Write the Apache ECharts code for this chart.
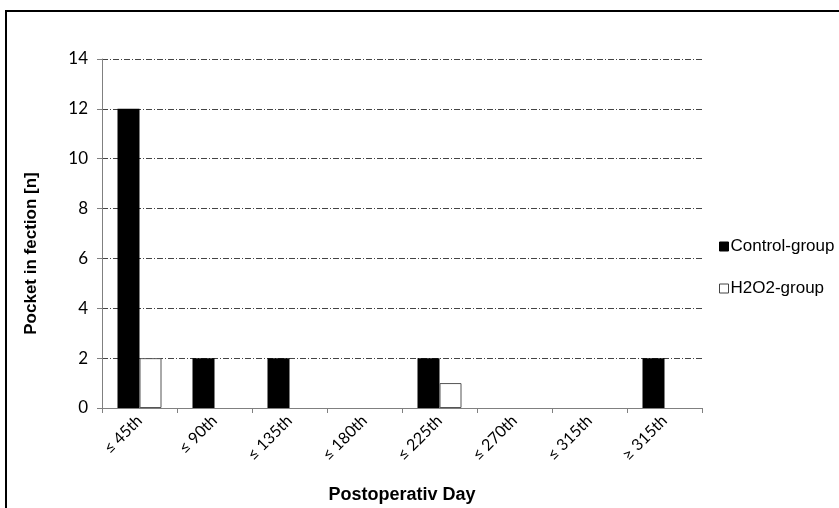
<!DOCTYPE html>
<html><head><meta charset="utf-8">
<script src="https://cdn.jsdelivr.net/npm/echarts@6/dist/echarts.min.js"></script>
<style>html,body{margin:0;padding:0;background:#fff}#c{width:839px;height:508px}</style>
</head><body><div id="c"></div>
<script>
const categories = ['≤ 45th','≤ 90th','≤ 135th','≤ 180th','≤ 225th','≤ 270th','≤ 315th','≥ 315th'];
const controlGroup = [12, 2, 2, 0, 2, 0, 0, 2];
const h2o2Group = [2, 0, 0, 0, 1, 0, 0, 0];
const yTicks = {min: 0, max: 14, interval: 2};

// zero counts draw no bar (hide zero-height outline)
const hideZero = arr => arr.map(v => (v === 0 ? null : v));

const chart = echarts.init(document.getElementById('c'), null, {renderer: 'canvas'});
chart.setOption({
  animation: false,
  backgroundColor: '#fff',
  graphic: [{type: 'rect', shape: {x: 6, y: 11, width: 900, height: 600}, style: {fill: 'none', stroke: '#000', lineWidth: 2}, silent: true}],
  grid: {left: 102, right: 137, top: 59, bottom: 100, containLabel: false, outerBoundsMode: 'none'},
  legend: {
    orient: 'vertical', left: 714, top: 233, itemGap: 25, itemWidth: 9, itemHeight: 9,
    icon: 'rect', itemStyle: {borderWidth: 1},
    textStyle: {fontFamily: 'Liberation Sans, Arial', fontSize: 17, color: '#000', padding: [0,0,0,-3]},
    data: [{name: 'Control-group', itemStyle: {color: '#000', borderColor: '#000'}},
           {name: 'H2O2-group', itemStyle: {color: '#fff', borderColor: '#444'}}]
  },
  xAxis: {
    type: 'category', data: categories,
    name: 'Postoperativ Day', nameLocation: 'middle', nameGap: 78,
    nameTextStyle: {fontFamily: 'Liberation Sans, Arial', fontWeight: 'bold', fontSize: 18, color: '#000'},
    axisLine: {lineStyle: {color: '#808080', width: 1}},
    axisTick: {show: true, length: 5, lineStyle: {color: '#808080'}},
    axisLabel: {rotate: 45, margin: 10, fontFamily: 'Lato, Open Sans', fontSize: 16, color: '#000'}
  },
  yAxis: {
    type: 'value', min: yTicks.min, max: yTicks.max, interval: yTicks.interval,
    name: 'Pocket in fection [n]', nameLocation: 'middle', nameGap: 62, nameRotate: 90,
    nameTextStyle: {fontFamily: 'Liberation Sans, Arial', fontWeight: 'bold', fontSize: 17, color: '#000', padding: [0, 40, 0, 0]},
    axisLine: {show: true, lineStyle: {color: '#808080', width: 1}},
    axisTick: {show: true, length: 5, lineStyle: {color: '#808080'}},
    axisLabel: {margin: 14, fontFamily: 'Lato, Open Sans', fontSize: 17, color: '#000'},
    splitLine: {show: true, lineStyle: {color: '#444', width: 1, type: [6, 2, 1, 2]}}
  },
  series: [
    {name: 'Control-group', type: 'bar', data: hideZero(controlGroup), barWidth: 22, barGap: '0%',
     itemStyle: {color: '#000', borderColor: '#000', borderWidth: 0}},
    {name: 'H2O2-group', type: 'bar', data: hideZero(h2o2Group), barWidth: 22,
     itemStyle: {color: '#fff', borderColor: '#555', borderWidth: 1}}
  ]
});
</script></body></html>
